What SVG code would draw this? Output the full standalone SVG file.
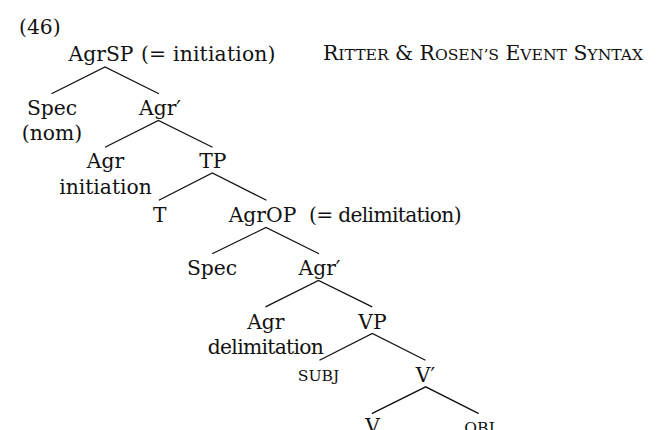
<svg xmlns="http://www.w3.org/2000/svg" width="672" height="430" viewBox="0 0 672 430">
<style>
text{font-family:"DejaVu Serif","Liberation Serif",serif;font-size:20.3px;fill:#111111}
.m{text-anchor:middle}
.sc{font-size:15.6px}
.tight{letter-spacing:-0.7px}
.edge{stroke:#111111;stroke-width:1.3;fill:none;stroke-linecap:round}
</style>
<rect width="672" height="430" fill="#ffffff"/>
<text id="exnum" x="19" y="33.5">(46)</text>
<text id="title" x="323" y="60">R<tspan class="sc">ITTER</tspan> &amp; R<tspan class="sc">OSEN’S</tspan> E<tspan class="sc">VENT</tspan> S<tspan class="sc">YNTAX</tspan></text>
<g id="edges" class="edge">
<path d="M52 93.5L105 67L158.4 93.5"/>
<path d="M105.5 147L158.4 120.5L212 147"/>
<path d="M159.3 200L212.3 173L266 200"/>
<path d="M212.7 253.5L266 227.5L318.5 253.5"/>
<path d="M266 306.7L318.5 280.5L371.7 306.7"/>
<path d="M320 360L372.3 333.5L425 360"/>
<path d="M372.3 413.3L425.7 386.8L478.3 413.3"/>
</g>
<g id="agrsp"><text class="m" x="101" y="60.5">AgrSP</text><text x="141" y="60.5" letter-spacing="0.2">(= initiation)</text></g>
<g id="spec1"><text class="m" x="52" y="114.5">Spec</text><text class="m" x="52" y="139.5">(nom)</text></g>
<g id="agrbar1"><text class="m" x="160" y="114.5">Agr′</text></g>
<g id="agr1"><text class="m" x="105.5" y="168">Agr</text><text class="m" x="105.5" y="193.5">initiation</text></g>
<g id="tp"><text class="m" x="212.8" y="168">TP</text></g>
<g id="t"><text class="m" x="159.7" y="221.5">T</text></g>
<g id="agrop"><text class="m" x="262.5" y="222">AgrOP</text><text class="tight" x="309" y="222">(= delimitation)</text></g>
<g id="spec2"><text class="m" x="212" y="275">Spec</text></g>
<g id="agrbar2"><text class="m" x="319.5" y="275">Agr′</text></g>
<g id="agr2"><text class="m" x="265.8" y="328.5">Agr</text><text class="m tight" x="265.5" y="354">delimitation</text></g>
<g id="vp"><text class="m" x="372.5" y="328.5">VP</text></g>
<g id="subj"><text class="m sc" x="318.5" y="381">SUBJ</text></g>
<g id="vbar"><text class="m" x="425.5" y="381.5">V′</text></g>
<g id="v"><text class="m" x="372.5" y="432.5">V</text></g>
<g id="obj"><text class="m sc" x="479.5" y="433">OBJ</text></g>
</svg>
